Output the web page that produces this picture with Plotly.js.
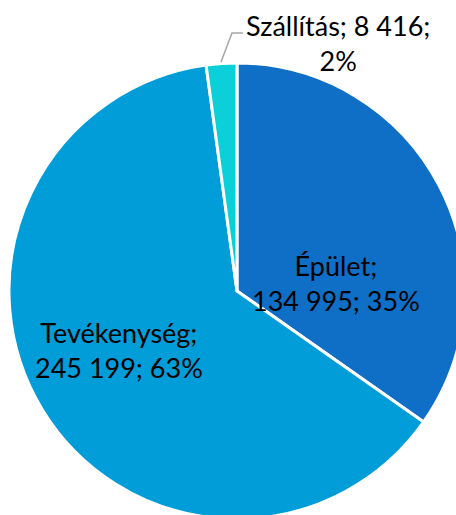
<!DOCTYPE html>
<html><head><meta charset="utf-8">
<script src="https://cdn.plot.ly/plotly-3.0.1.min.js"></script>
<style>html,body{margin:0;padding:0;overflow:hidden;background:#fff;width:456px;height:515px}#c{width:474px;height:519px}</style>
</head><body><div id="c"></div>
<script>
const categories = ["Épület", "Tevékenység", "Szállítás"];
const values = [134995, 245199, 8416];
const percentLabels = ["35%", "63%", "2%"];
const valueLabels = ["134 995", "245 199", "8 416"];
const colors = ["#0F6FC6", "#009DD9", "#0BD0D9"];

const font = {family: "Lato, 'Open Sans', sans-serif", size: 27, color: "#000"};
const W = 474, H = 519, ML = 9, MT = 63, PW = 456, PH = 456;
function px(x){return (x - ML)/PW;} function py(y){return 1 - (y - MT)/PH;}

const annotations = [
  {x: px(336), y: py(283), text: categories[0] + ";<br>" + valueLabels[0] + "; " + percentLabels[0]},
  {x: px(119), y: py(350), text: categories[1] + ";<br>" + valueLabels[1] + "; " + percentLabels[1]},
  {x: px(338), y: py(43), text: categories[2] + "; " + valueLabels[2] + ";<br>" + percentLabels[2]}
].map(a => Object.assign({xref: "paper", yref: "paper", showarrow: false, font: font, align: "center", xanchor: "center", yanchor: "middle"}, a));

Plotly.newPlot("c", [{
  type: "pie",
  labels: categories,
  values: values,
  sort: false,
  direction: "clockwise",
  rotation: 0,
  textinfo: "none",
  hoverinfo: "none",
  marker: {colors: colors, line: {color: "#fff", width: 3}},
  showlegend: false
}], {
  width: W, height: H,
  margin: {l: ML, r: W - ML - PW, t: MT, b: H - MT - PH},
  paper_bgcolor: "#fff",
  annotations: annotations,
  shapes: [{type: "path", xref: "paper", yref: "paper",
    path: "M " + px(221) + " " + py(62) + " L " + px(232) + " " + py(33) + " L " + px(243) + " " + py(33),
    line: {color: "#A6A6A6", width: 1.5}}]
}, {staticPlot: true});
</script></body></html>
